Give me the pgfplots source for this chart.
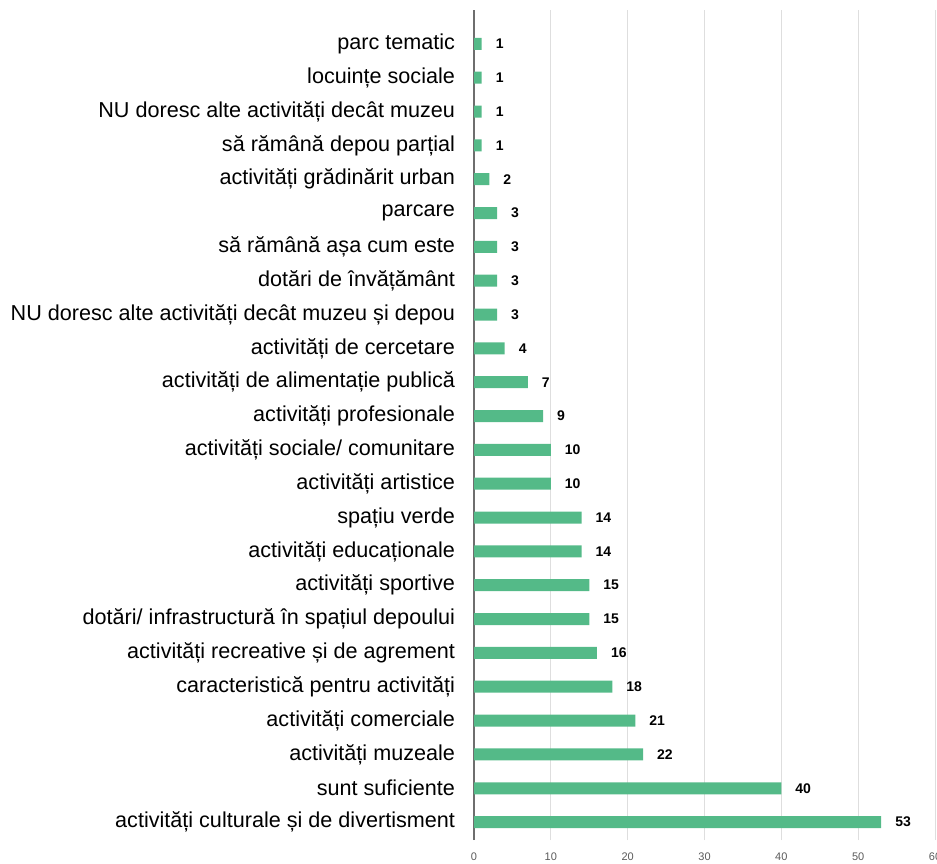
\documentclass[border=0pt]{standalone}
\usepackage{pgfplots}
\pgfplotsset{compat=1.18}
\usetikzlibrary{calc}
\usepackage{fontspec}
\setmainfont{Liberation Sans}
\definecolor{bargreen}{RGB}{84,186,136}
\definecolor{gridgrey}{RGB}{222,222,222}
\definecolor{axisgrey}{RGB}{110,110,110}
\definecolor{tickgrey}{RGB}{90,90,90}
\begin{document}
\begin{tikzpicture}
\begin{axis}[
  scale only axis,
  width=230.5pt, height=415pt,
  xbar, bar width=6pt,
  xmin=0, xmax=60,
  ymin=-0.53, ymax=24,
  xtick={0,10,20,30,40,50,60},
  ytick={0,...,23},
  yticklabels={activități culturale și de divertisment,sunt suficiente,activități muzeale,activități comerciale,caracteristică pentru activități,activități recreative și de agrement,dotări/ infrastructură în spațiul depoului,activități sportive,activități educaționale,spațiu verde,activități artistice,activități sociale/ comunitare,activități profesionale,activități de alimentație publică,activități de cercetare,NU doresc alte activități decât muzeu și depou,dotări de învățământ,să rămână așa cum este,parcare,activități grădinărit urban,să rămână depou parțial,NU doresc alte activități decât muzeu,locuințe sociale,parc tematic},
  major tick length=0pt,
  axis x line*=bottom,
  x axis line style={draw=none},
  axis y line*=left,
  y axis line style={draw=axisgrey, line width=1pt},
  xmajorgrids, major grid style={draw=gridgrey, line width=0.5pt},
  yticklabel style={font=\fontsize{10.8}{12}\selectfont, anchor=east, xshift=-6pt},
  xticklabel style={font=\fontsize{5.5}{6}\selectfont, text=tickgrey, yshift=-3pt},
  /pgf/number format/assume math mode=true,
  nodes near coords,
  nodes near coords style={font=\bfseries\fontsize{7}{8}\selectfont, anchor=west, xshift=3.5pt},
  clip=false,
]
\addplot[fill=bargreen, draw=none] coordinates {
(53,0) (40,1) (22,2) (21,3) (18,4) (16,5) (15,6) (15,7) (14,8) (14,9) (10,10) (10,11) (9,12) (7,13) (4,14) (3,15) (3,16) (3,17) (3,18) (2,19) (1,20) (1,21) (1,22) (1,23)
};
\coordinate (AL) at (rel axis cs:0,0);
\coordinate (AT) at (rel axis cs:1,1);
\end{axis}
\pgfresetboundingbox
\path ($(AL)+(-237pt,-11.5pt)$) rectangle ($(AT)+(1pt,5pt)$);
\end{tikzpicture}
\end{document}
